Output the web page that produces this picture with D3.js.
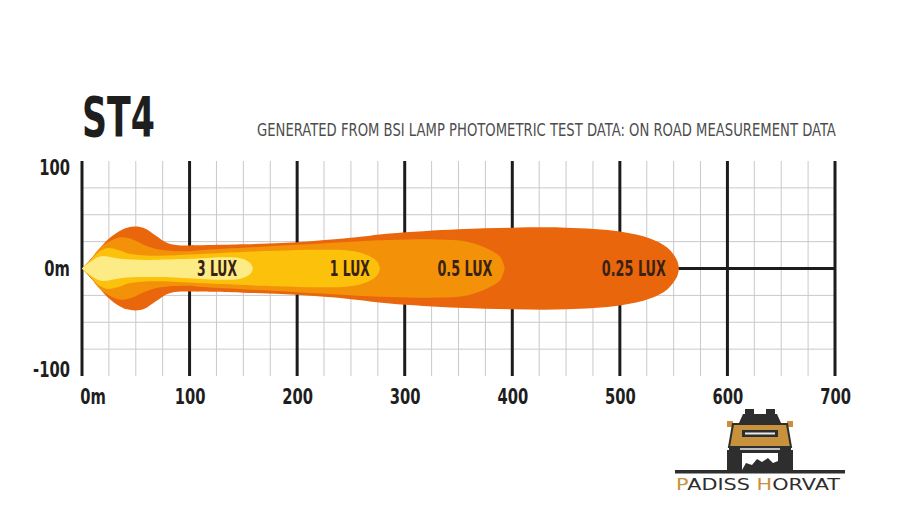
<!DOCTYPE html>
<html>
<head>
<meta charset="utf-8">
<script src="https://cdn.jsdelivr.net/npm/d3@7"></script>
<style>
  html, body { margin: 0; padding: 0; background: #fff; }
  svg { display: block; }
  .cond { font-family: 'Liberation Sans Narrow', 'DejaVu Sans Condensed', 'Arial Narrow', sans-serif; }
</style>
</head>
<body>
<svg id="chart" width="920" height="521"></svg>
<script>
// ---------- DATA ----------
const titleText = "ST4";
const subtitleText = "GENERATED FROM BSI LAMP PHOTOMETRIC TEST DATA: ON ROAD MEASUREMENT DATA";
const xTicks = [0, 100, 200, 300, 400, 500, 600, 700];
const xTickLabels = ["0m", "100", "200", "300", "400", "500", "600", "700"];
const yTicks = [100, 0, -100];
const yTickLabels = ["100", "0m", "-100"];

// Beam half-width (m) vs distance (m), per isolux level
const luxLevels = ["0.25 LUX", "0.5 LUX", "1 LUX", "3 LUX"];
const beam025 = [[0,0],[10,11],[24,27],[35,35],[42,38],[50,39],[58,37.5],[68,31],[80,23.5],[92,21.5],[100,21.5],[150,22.5],[200,24.5],[250,28.5],[286,32.5],[350,36.5],[400,38],[450,38],[500,34.5],[528,28],[544,19.5],[553,8],[555,0]];
const beam05  = [[0,0],[8,8],[15,17.5],[27,26],[37,29],[47,27],[59,21.5],[73,17.5],[99,16],[110,17],[200,22],[286,26.5],[330,27],[358,25],[379,17.5],[389,10.5],[393,0]];
const beam1   = [[0,0],[8,8],[15,15],[24,19],[33,17.5],[43,14],[59,12],[80,12],[100,13],[130,14.5],[180,16.5],[220,17.5],[245,17],[260,14.5],[270,10],[275,5.5],[277,0]];
const beam3   = [[0,0],[8,6.5],[16,11],[22,11.5],[36,9],[60,8],[100,9],[130,10.5],[145,10],[153,7.5],[157,4.5],[159,0]];
const beams = [beam025, beam05, beam1, beam3];
const labelDistance = [513, 356, 249, 125.5];

// ---------- STYLE ----------
const beamColors = ["#E9660C", "#F39208", "#FCC10A", "#FDEB86"];
const labelWidths = [64, 55, 40, 40];
const condense = 0.78;

const svg = d3.select("#chart");
const x = d3.scaleLinear().domain([0, 700]).range([82, 835]);
const y = d3.scaleLinear().domain([-100, 100]).range([376, 161]);

// ---------- GRID ----------
const grid = svg.append("g");
grid.selectAll("line.vminor").data(d3.range(0, 701, 25).filter(v => v % 100 !== 0))
  .join("line").attr("class", "vminor")
  .attr("x1", d => x(d)).attr("x2", d => x(d))
  .attr("y1", y(100)).attr("y2", y(-100))
  .attr("stroke", "#c9c9c9").attr("stroke-width", 1);
grid.selectAll("line.hminor").data(d3.range(-75, 76, 25).filter(v => v !== 0))
  .join("line").attr("class", "hminor")
  .attr("x1", x(0)).attr("x2", x(700))
  .attr("y1", d => y(d)).attr("y2", d => y(d))
  .attr("stroke", "#c9c9c9").attr("stroke-width", 1);
grid.append("line")
  .attr("x1", x(0)).attr("x2", x(700)).attr("y1", y(0)).attr("y2", y(0))
  .attr("stroke", "#1c1c1c").attr("stroke-width", 3);
grid.selectAll("line.vmajor").data(xTicks)
  .join("line").attr("class", "vmajor")
  .attr("x1", d => x(d)).attr("x2", d => x(d))
  .attr("y1", y(100)).attr("y2", y(-100))
  .attr("stroke", "#1c1c1c").attr("stroke-width", 3);

// ---------- BEAMS ----------
const area = d3.area()
  .x(d => x(d[0]))
  .y0(d => y(-d[1]))
  .y1(d => y(d[1]))
  .curve(d3.curveCatmullRom.alpha(0.5));
svg.append("g").selectAll("path").data(beams).join("path")
  .attr("d", area)
  .attr("fill", (d, i) => beamColors[i]);

svg.append("g").selectAll("text").data(luxLevels).join("text")
  .attr("class", "cond")
  .attr("x", (d, i) => x(labelDistance[i]))
  .attr("y", y(0))
  .attr("dy", "0.36em")
  .attr("text-anchor", "middle")
  .attr("font-size", 21)
  .attr("font-weight", "bold")
  .attr("fill", "#3a2212")
  .attr("textLength", (d, i) => labelWidths[i])
  .attr("lengthAdjust", "spacingAndGlyphs")
  .text(d => d);

// ---------- AXES ----------
const xAxis = d3.axisBottom(x).tickValues(xTicks).tickSize(0).tickPadding(0)
  .tickFormat((d, i) => xTickLabels[i]);
const gx = svg.append("g").attr("transform", `translate(0, ${y(-100) + 13})`).call(xAxis);
gx.select(".domain").remove();
gx.selectAll("text").attr("class", "cond").attr("font-size", 21).attr("font-weight", "bold")
  .attr("fill", "#1e1e1e").attr("dy", "0.71em")
  .attr("transform", `scale(${condense},1)`);
gx.selectAll("text").filter((d, i) => i === 0).attr("text-anchor", "start").attr("dx", -3);

const yAxis = d3.axisLeft(y).tickValues(yTicks).tickSize(0).tickPadding(15.5)
  .tickFormat((d, i) => yTickLabels[i]);
const gy = svg.append("g").attr("transform", `translate(${x(0)}, 0)`).call(yAxis);
gy.select(".domain").remove();
gy.selectAll("text").attr("class", "cond").attr("font-size", 21).attr("font-weight", "bold")
  .attr("fill", "#1e1e1e")
  .attr("dy", d => d === 100 ? "0.62em" : (d === -100 ? "0.02em" : "0.32em"))
  .attr("transform", `scale(${condense},1)`);

// ---------- TITLES ----------
svg.append("text").attr("class", "cond")
  .attr("x", 82).attr("y", 136)
  .attr("font-size", 56).attr("font-weight", "bold").attr("fill", "#1e1e1e")
  .attr("textLength", 73).attr("lengthAdjust", "spacingAndGlyphs")
  .text(titleText);
const sub = svg.append("text").attr("class", "cond")
  .attr("transform", "translate(257,135.5)")
  .attr("font-size", 18.5).attr("fill", "#4d4d4d")
  .text(subtitleText);
const natural = sub.node().getComputedTextLength();
sub.attr("transform", `translate(257,135.5) scale(${579 / natural},1)`);

// ---------- LOGO (watermark) ----------
const logo = svg.append("g");
const dark = "#2e2e2e", tan = "#C8923C";
logo.append("rect").attr("x", 745).attr("y", 409).attr("width", 9).attr("height", 6).attr("fill", dark);
logo.append("rect").attr("x", 766).attr("y", 409).attr("width", 9).attr("height", 6).attr("fill", dark);
logo.append("path").attr("d", "M739,423 L743,414 L777,414 L781,423 Z").attr("fill", dark);
logo.append("rect").attr("x", 727).attr("y", 421).attr("width", 6).attr("height", 6).attr("fill", tan);
logo.append("rect").attr("x", 787).attr("y", 421).attr("width", 6).attr("height", 6).attr("fill", tan);
logo.append("path").attr("d", "M733,424 L787,424 L791,447 L729,447 Z").attr("fill", tan).attr("stroke", dark).attr("stroke-width", 2);
logo.append("rect").attr("x", 742).attr("y", 430).attr("width", 36).attr("height", 7).attr("fill", dark);
logo.append("rect").attr("x", 745).attr("y", 432.5).attr("width", 30).attr("height", 2).attr("fill", "#e8e8e8");
logo.append("rect").attr("x", 729).attr("y", 446).attr("width", 62).attr("height", 7).attr("fill", dark);
logo.append("rect").attr("x", 740).attr("y", 448).attr("width", 40).attr("height", 2).attr("fill", "#bdbdbd");
logo.append("rect").attr("x", 727).attr("y", 450).attr("width", 15).attr("height", 21).attr("fill", dark);
logo.append("rect").attr("x", 778).attr("y", 450).attr("width", 15).attr("height", 21).attr("fill", dark);
logo.append("path").attr("d", "M742,470 L746,463 L752,465 L757,459 L762,462 L768,458 L773,463 L778,461 L778,470 Z").attr("fill", dark);
logo.append("rect").attr("x", 675).attr("y", 470).attr("width", 170).attr("height", 3.5).attr("fill", dark);
const word = logo.append("text").attr("x", 676).attr("y", 490)
  .attr("font-family", "'DejaVu Sans', sans-serif").attr("font-size", 15)
  .attr("textLength", 164).attr("lengthAdjust", "spacingAndGlyphs")
  .attr("fill", dark);
word.append("tspan").attr("fill", tan).text("P");
word.append("tspan").text("ADISS  ");
word.append("tspan").attr("fill", tan).text("H");
word.append("tspan").text("ORVAT");
</script>
</body>
</html>
